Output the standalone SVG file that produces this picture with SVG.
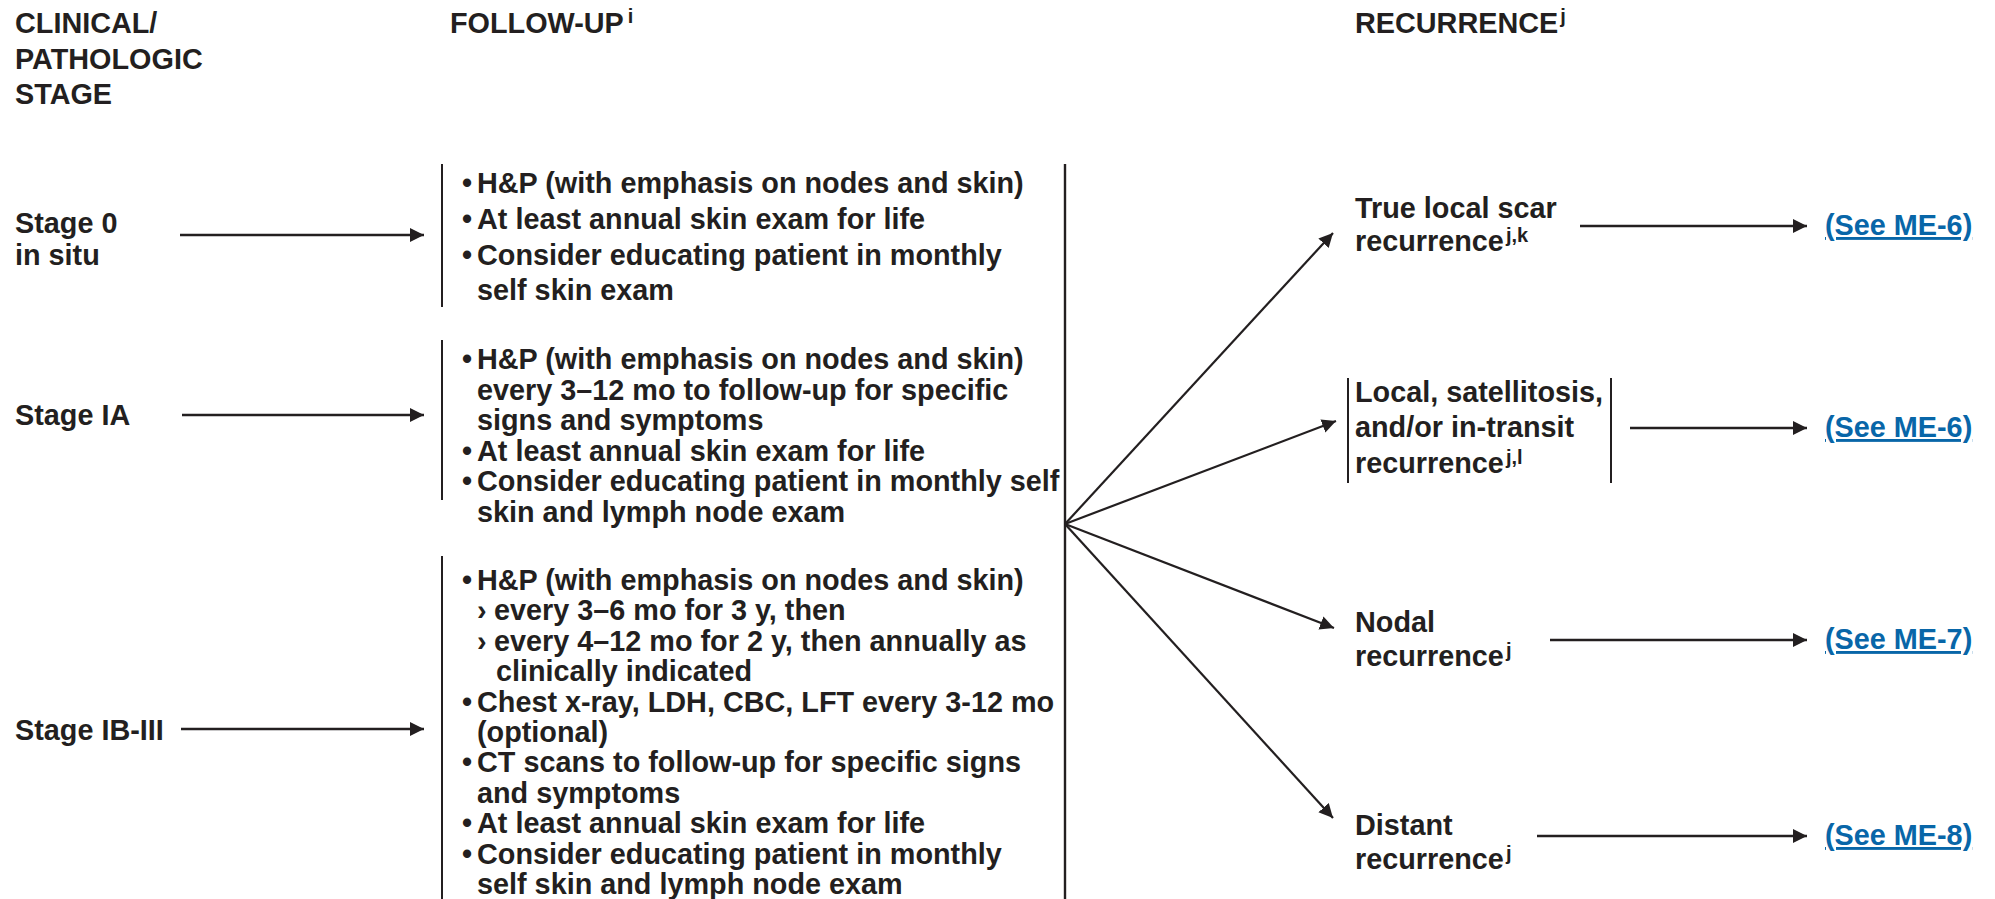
<svg xmlns="http://www.w3.org/2000/svg" width="1995" height="899" viewBox="0 0 1995 899">
<defs>
<style>
text{font-family:"Liberation Sans",Arial,Helvetica,sans-serif;font-weight:bold;font-size:28.8px;fill:#231f20}
.sup{font-size:20px}
.link{fill:#0866a8;text-decoration:underline}
.conn{stroke:#231f20;stroke-width:2.5;fill:none}
.fan{stroke:#231f20;stroke-width:2.2;fill:none}
.bar{stroke:#231f20;stroke-width:2;fill:none}
</style>
<marker id="ah" markerUnits="userSpaceOnUse" markerWidth="16" markerHeight="16" refX="14" refY="7" orient="auto">
<path d="M0,0 L14,7 L0,14 z" fill="#231f20"/>
</marker>
</defs>
<rect width="1995" height="899" fill="#ffffff"/>

<g id="col-headers">
<text x="15" y="33">CLINICAL/</text>
<text x="15" y="69">PATHOLOGIC</text>
<text x="15" y="104">STAGE</text>
<text x="450" y="33">FOLLOW-UP<tspan class="sup" dx="4" dy="-10">i</tspan></text>
<text x="1355" y="33">RECURRENCE<tspan class="sup" dx="2" dy="-10">j</tspan></text>
</g>

<g id="stage0">
<text x="15" y="233">Stage 0</text>
<text x="15" y="265">in situ</text>
</g>
<g id="stageIA">
<text x="15" y="425">Stage IA</text>
</g>
<g id="stageIB">
<text x="15" y="740">Stage IB-III</text>
</g>

<g id="followup-0">
<line class="bar" x1="442" y1="164" x2="442" y2="307"/>
<text x="462" y="193">•</text><text x="477" y="193">H&amp;P (with emphasis on nodes and skin)</text>
<text x="462" y="229">•</text><text x="477" y="229">At least annual skin exam for life</text>
<text x="462" y="265">•</text><text x="477" y="265">Consider educating patient in monthly</text>
<text x="477" y="300">self skin exam</text>
</g>

<g id="followup-IA">
<line class="bar" x1="442" y1="340" x2="442" y2="500"/>
<text x="462" y="369">•</text><text x="477" y="369">H&amp;P (with emphasis on nodes and skin)</text>
<text x="477" y="399.5">every 3–12 mo to follow-up for specific</text>
<text x="477" y="430">signs and symptoms</text>
<text x="462" y="460.5">•</text><text x="477" y="460.5">At least annual skin exam for life</text>
<text x="462" y="491">•</text><text x="477" y="491">Consider educating patient in monthly self</text>
<text x="477" y="521.5">skin and lymph node exam</text>
</g>

<g id="followup-IB">
<line class="bar" x1="442" y1="556" x2="442" y2="899"/>
<text x="462" y="590">•</text><text x="477" y="590">H&amp;P (with emphasis on nodes and skin)</text>
<text x="477" y="620.4">›</text><text x="494" y="620.4">every 3–6 mo for 3 y, then</text>
<text x="477" y="650.8">›</text><text x="494" y="650.8">every 4–12 mo for 2 y, then annually as</text>
<text x="496" y="681.2">clinically indicated</text>
<text x="462" y="711.6">•</text><text x="477" y="711.6">Chest x-ray, LDH, CBC, LFT every 3-12 mo</text>
<text x="477" y="742">(optional)</text>
<text x="462" y="772.4">•</text><text x="477" y="772.4">CT scans to follow-up for specific signs</text>
<text x="477" y="802.8">and symptoms</text>
<text x="462" y="833.2">•</text><text x="477" y="833.2">At least annual skin exam for life</text>
<text x="462" y="863.6">•</text><text x="477" y="863.6">Consider educating patient in monthly</text>
<text x="477" y="894">self skin and lymph node exam</text>
</g>

<g id="rec-local-scar">
<text x="1355" y="218">True local scar</text>
<text x="1355" y="251">recurrence<tspan class="sup" dx="2" dy="-9">j,k</tspan></text>
</g>
<g id="rec-local-satellitosis">
<line class="bar" x1="1348" y1="378" x2="1348" y2="483"/>
<line class="bar" x1="1611" y1="378" x2="1611" y2="483"/>
<text x="1355" y="402">Local, satellitosis,</text>
<text x="1355" y="437">and/or in-transit</text>
<text x="1355" y="473">recurrence<tspan class="sup" dx="2" dy="-9">j,l</tspan></text>
</g>
<g id="rec-nodal">
<text x="1355" y="632">Nodal</text>
<text x="1355" y="666">recurrence<tspan class="sup" dx="2" dy="-9">j</tspan></text>
</g>
<g id="rec-distant">
<text x="1355" y="835">Distant</text>
<text x="1355" y="869">recurrence<tspan class="sup" dx="2" dy="-9">j</tspan></text>
</g>

<g id="link-me6-a"><text class="link" x="1825" y="235">(See ME-6)</text></g>
<g id="link-me6-b"><text class="link" x="1825" y="437">(See ME-6)</text></g>
<g id="link-me7"><text class="link" x="1825" y="649">(See ME-7)</text></g>
<g id="link-me8"><text class="link" x="1825" y="845">(See ME-8)</text></g>

<g id="connectors">
<line class="conn" x1="180" y1="235" x2="424" y2="235" marker-end="url(#ah)"/>
<line class="conn" x1="182" y1="415" x2="424" y2="415" marker-end="url(#ah)"/>
<line class="conn" x1="181" y1="729" x2="424" y2="729" marker-end="url(#ah)"/>
<line class="bar" x1="1065" y1="164" x2="1065" y2="899" style="stroke-width:2.4"/>
<line class="fan" x1="1065" y1="524" x2="1333" y2="233" marker-end="url(#ah)"/>
<line class="fan" x1="1065" y1="524" x2="1336" y2="421" marker-end="url(#ah)"/>
<line class="fan" x1="1065" y1="524" x2="1334" y2="628" marker-end="url(#ah)"/>
<line class="fan" x1="1065" y1="524" x2="1333" y2="818" marker-end="url(#ah)"/>
<line class="conn" x1="1580" y1="226" x2="1807" y2="226" marker-end="url(#ah)"/>
<line class="conn" x1="1630" y1="428" x2="1807" y2="428" marker-end="url(#ah)"/>
<line class="conn" x1="1550" y1="640" x2="1807" y2="640" marker-end="url(#ah)"/>
<line class="conn" x1="1537" y1="836" x2="1807" y2="836" marker-end="url(#ah)"/>
</g>
</svg>
